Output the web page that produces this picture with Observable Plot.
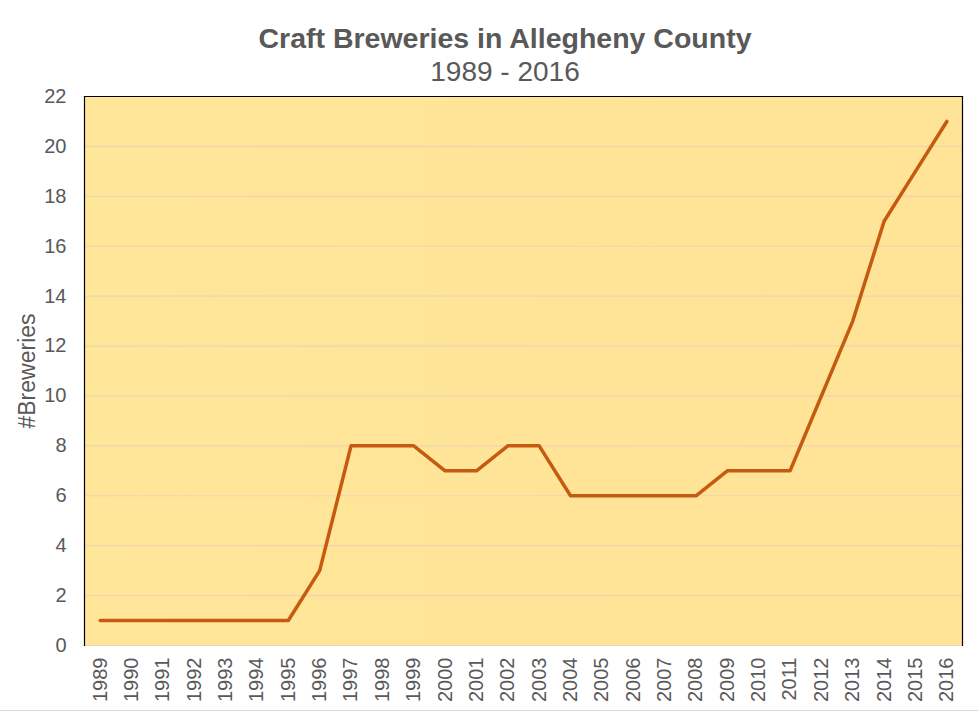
<!DOCTYPE html>
<html>
<head>
<meta charset="utf-8">
<script src="https://cdn.jsdelivr.net/npm/d3@7"></script>
<script src="https://cdn.jsdelivr.net/npm/@observablehq/plot@0.6"></script>
<style>
  body { margin: 0; background: #fff; font-family: Arial, "Liberation Sans", sans-serif; }
  #wrap { position: relative; width: 978px; height: 717px; overflow: hidden; }
  #title { position: absolute; left: 16px; width: 978px; top: 20px; text-align: center; font-size: 28.5px; font-weight: bold; color: #595959; line-height: 36px; }
  #subtitle { position: absolute; left: 16px; width: 978px; top: 55px; text-align: center; font-size: 28px; color: #595959; line-height: 34px; }
  #chart { position: absolute; left: 0; top: 80px; }
  #outer { position: absolute; left: 0; top: 710px; width: 978px; height: 1px; background: #d9d9d9; }
</style>
</head>
<body>
<div id="wrap">
  <div id="title">Craft Breweries in Allegheny County</div>
  <div id="subtitle">1989 - 2016</div>
  <div id="chart"></div>
  <div id="outer"></div>
</div>
<script>
const years = [1989,1990,1991,1992,1993,1994,1995,1996,1997,1998,1999,2000,2001,2002,2003,2004,2005,2006,2007,2008,2009,2010,2011,2012,2013,2014,2015,2016];
const breweries = [1,1,1,1,1,1,1,3,8,8,8,7,7,8,8,6,6,6,6,6,7,7,7,10,13,17,19,21];
const yTicks = [0,2,4,6,8,10,12,14,16,18,20,22];
const yLabel = "#Breweries";

const data = years.map((y, i) => ({year: String(y), value: breweries[i]}));

const chart = Plot.plot({
  width: 978,
  height: 637,
  marginTop: 16,
  marginBottom: 72,
  marginLeft: 84,
  marginRight: 16,
  style: {fontFamily: "Arial, 'Liberation Sans', sans-serif", background: "transparent"},
  x: {type: "point", domain: years.map(String), padding: 0.5, round: false, label: null},
  y: {domain: [0, 22], ticks: yTicks, label: null},
  marks: [
    Plot.frame({fill: "url(#bgGrad)", stroke: null}),
    Plot.gridY(yTicks, {stroke: "#EED3B3", strokeOpacity: 1, strokeWidth: 1.2}),
    Plot.frame({anchor: "left", stroke: "#000", strokeWidth: 1.2}),
    Plot.frame({anchor: "top", stroke: "#000", strokeWidth: 1.2}),
    Plot.frame({anchor: "right", stroke: "#000", strokeWidth: 1.2}),
    Plot.axisY(yTicks, {tickSize: 0, tickPadding: 18, fontSize: 20, fill: "#595959", label: null}),
    Plot.axisX({tickSize: 0, tickRotate: -90, tickPadding: 12, fontSize: 20, fill: "#595959", label: null}),
    Plot.line(data, {x: "year", y: "value", stroke: "#C55A11", strokeWidth: 3.5, strokeLinejoin: "round", strokeLinecap: "round"}),
    Plot.text([yLabel], {frameAnchor: "left", dx: -57, dy: 0, rotate: -90, fontSize: 23, fill: "#595959", textAnchor: "middle"})
  ]
});

const svg = d3.select(chart);
const yTickSet = new Set(yTicks.map(String));
const yearSet = new Set(years.map(String));
svg.selectAll("text").each(function() {
  const t = this.textContent.trim();
  if (yearSet.has(t) || yTickSet.has(t)) {
    this.setAttribute("font-size", "20");
    this.style.setProperty("font-size", "20px", "important");
  }
});
const defs = svg.insert("defs", ":first-child");
const g = defs.append("linearGradient").attr("id", "bgGrad").attr("x1", "0").attr("x2", "1").attr("y1", "0").attr("y2", "0");
g.append("stop").attr("offset", "0").attr("stop-color", "#FFE699");
g.append("stop").attr("offset", "1").attr("stop-color", "#FFE396");
document.getElementById("chart").appendChild(chart);
</script>
</body>
</html>
